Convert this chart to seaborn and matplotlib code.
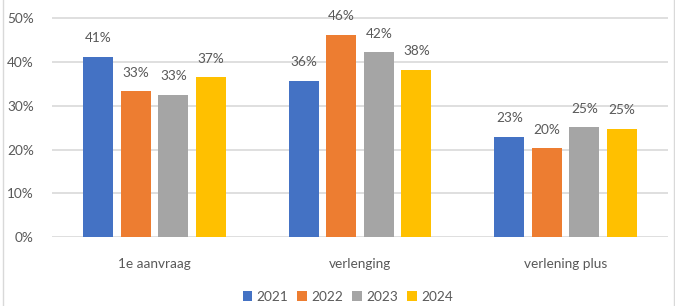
import matplotlib
matplotlib.use("Agg")
import matplotlib.pyplot as plt
import seaborn as sns
import pandas as pd
from matplotlib.ticker import FuncFormatter
from matplotlib.patches import Rectangle

categories = ["1e aanvraag", "verlenging", "verlening plus"]
years = ["2021", "2022", "2023", "2024"]
v2021 = [41.2, 35.8, 22.9]
v2022 = [33.4, 46.3, 20.3]
v2023 = [32.6, 42.3, 25.1]
v2024 = [36.6, 38.3, 24.8]
colors = ["#4472C4", "#ED7D31", "#A5A5A5", "#FFC000"]

rows = []
for y, vals in zip(years, [v2021, v2022, v2023, v2024]):
    for c, v in zip(categories, vals):
        rows.append({"categorie": c, "jaar": y, "waarde": v})
df = pd.DataFrame(rows)

sns.set_style("white")
plt.rcParams["font.family"] = ["Lato", "DejaVu Sans"]
txt = "#595959"

fig = plt.figure(figsize=(6.75, 3.06), dpi=100)
ax = fig.add_axes([0.077, 0.2255, 0.913, 0.7185])
sns.barplot(data=df, x="categorie", y="waarde", hue="jaar", order=categories,
            hue_order=years, palette=colors, width=0.73, gap=0.2, ax=ax,
            saturation=1, legend=True, edgecolor="none")

for cont in ax.containers:
    ax.bar_label(cont, fmt="{:.0f}%", padding=9, color=txt, fontsize=9.8)

ax.set_ylim(0, 50.3)
ax.set_xlim(-0.5, 2.5)
ax.set_yticks([0, 10, 20, 30, 40, 50])
ax.yaxis.set_major_formatter(FuncFormatter(lambda v, p: f"{v:.0f}%"))
ax.grid(axis="y", color="#D9D9D9", linewidth=1.2)
ax.set_axisbelow(True)
for s in ax.spines.values():
    s.set_visible(False)
ax.set_xlabel("")
ax.set_ylabel("")
ax.tick_params(axis="both", length=0, colors=txt, labelsize=9.8)
ax.tick_params(axis="x", pad=15)
ax.tick_params(axis="y", pad=13)

handles, labels = ax.get_legend_handles_labels()
ax.get_legend().remove()
fig.legend(handles, labels, loc="center", bbox_to_anchor=(0.515, 0.03), ncol=4,
           frameon=False, handlelength=0.7, handleheight=0.7, handletextpad=0.3,
           columnspacing=0.7, fontsize=9.8, labelcolor=txt)

fig.patches.append(Rectangle((0.004, -0.01), 0.995, 1.02, transform=fig.transFigure,
                             fill=False, edgecolor="#D9D9D9", linewidth=1))

fig.savefig("out.png", dpi=100)
